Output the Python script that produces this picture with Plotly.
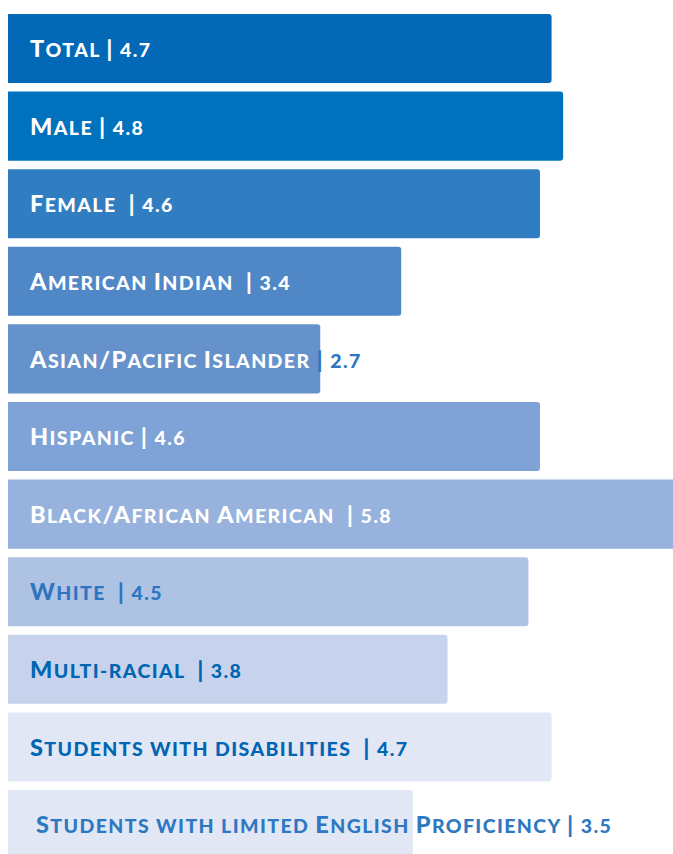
"""
Horizontal bar chart - subgroup rates with inline small-caps labels
"""

import plotly.graph_objects as go

# data
categories = [
    'Total', 'Male', 'Female', 'American Indian', 'Asian/Pacific Islander',
    'Hispanic', 'Black/African American', 'White', 'Multi-racial',
    'Students with disabilities', 'Students with limited English Proficiency',
]
values = [4.7, 4.8, 4.6, 3.4, 2.7, 4.6, 5.8, 4.5, 3.8, 4.7, 3.5]

# styling
bar_colors = [
    '#0368B5', '#0071BC', '#317DC1', '#5087C7', '#6692CB', '#7FA3D6',
    '#97B2DC', '#AEC3E4', '#C7D3EC', '#E1E7F5', '#E1E7F5',
]
text_colors = [
    'white', 'white', 'white', 'white', 'white', 'white', 'white',
    '#2E75BF', '#0066B3', '#0066B3', '#2E78C2',
]
wide_gap = {'Female', 'American Indian', 'Black/African American', 'White',
            'Multi-racial', 'Students with disabilities'}
lead_space = {'Students with limited English Proficiency'}
outside_value = {'Asian/Pacific Islander'}

BIG = 23.5
SMALL = 19.5
TRACKING = 1.4
# plotly 用 textfont.size 决定基线位置 (0.25em), 实际字号都写在 span 里
ANCHOR_SIZE = 35


def small_caps(s, color=None):
    """把小写字母转成小号大写, 模拟 small caps"""
    runs = []
    for ch in s:
        big = ch.isupper() or ch in '|/'
        txt = '&nbsp;' if ch == ' ' else ch.upper()
        if runs and runs[-1][1] == big:
            runs[-1][0] += txt
        else:
            runs.append([txt, big])
    out = ''
    for txt, big in runs:
        style = f'font-size:{BIG if big else SMALL}px;letter-spacing:{TRACKING}px'
        if color:
            style += f';color:{color}'
        out += f"<span style='{style}'>{txt}</span>"
    return out


labels = []
for name, val in zip(categories, values):
    gap = '  ' if name in wide_gap else ' '
    lead = ' ' if name in lead_space else ''
    if name in outside_value:
        labels.append(small_caps(lead + name + gap) + small_caps(f'| {val}', '#2E75BF'))
    else:
        labels.append(small_caps(f'{lead}{name}{gap}| {val}'))

fig = go.Figure()

fig.add_trace(go.Bar(
    x=values,
    y=categories,
    orientation='h',
    marker=dict(color=bar_colors, line=dict(width=0)),
    hoverinfo='skip',
    showlegend=False,
))

# 标签放在每根条形左侧内部
fig.add_trace(go.Scatter(
    x=[0.19] * len(categories),
    y=categories,
    mode='text',
    text=labels,
    textposition='middle right',
    textfont=dict(family='Lato', size=ANCHOR_SIZE, color=text_colors, weight=900),
    hoverinfo='skip',
    showlegend=False,
    cliponaxis=False,
))

fig.update_layout(
    width=673,
    height=854,
    margin=dict(l=8, r=0, t=0, b=0),
    paper_bgcolor='white',
    plot_bgcolor='white',
    bargap=0.11,
    barcornerradius=3,
    xaxis=dict(range=[0, 5.75], visible=False, fixedrange=True),
    yaxis=dict(type='category', range=[10.38, -0.625], visible=False,
               fixedrange=True),
)

fig.write_html("out.html", config={'displayModeBar': False},
               post_script="document.body.style.margin='0';")
